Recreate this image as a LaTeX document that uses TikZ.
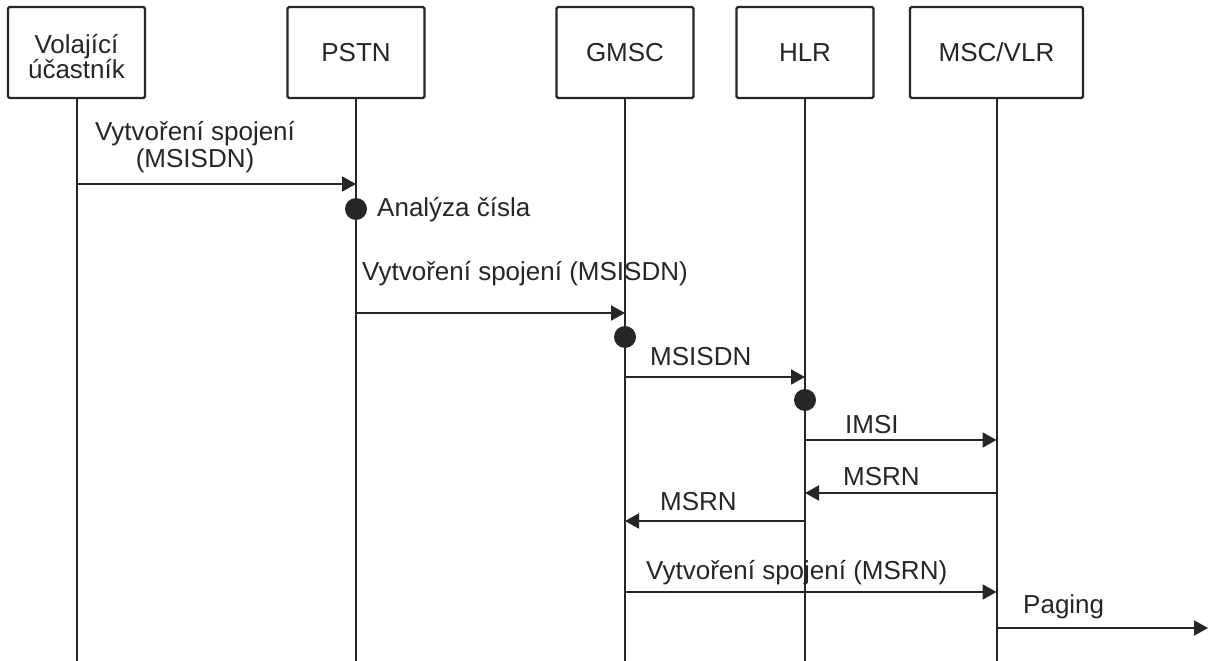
\documentclass[tikz,border=0pt]{standalone}
\usepackage{fontspec}
\setmainfont{Liberation Sans}
\usetikzlibrary{arrows.meta}
\definecolor{ink}{HTML}{262626}
\begin{document}
\begin{tikzpicture}[x=1pt,y=-1pt,
  entity/.style={draw=ink, line width=2.4pt, rounded corners=1.5pt, fill=white,
    minimum width=137pt, minimum height=91pt, inner sep=0pt, align=center,
    text=ink, font=\fontsize{26}{23}\selectfont},
  names/.style={text=ink, align=center, inner sep=0pt, font=\fontsize{26}{23}\selectfont},
  life/.style={draw=ink, line width=2pt},
  msg/.style={draw=ink, line width=2pt, -{Triangle[length=14pt,width=15pt]}},
  lbl/.style={text=ink, font=\fontsize{26}{28}\selectfont, inner sep=0pt, anchor=base west},
  event/.style={circle, fill=ink, minimum size=22pt, inner sep=0pt}]
\useasboundingbox (0,0) rectangle (1213,661);

% participants
\node[entity] (caller) at (76.5,52.5) {};
\node[names, yshift=-4pt] (callerName) at (caller.center) {Volající\\účastník};
\node[entity] (pstn) at (356,52.5) {PSTN};
\node[entity] (gmsc) at (625,52.5) {GMSC};
\node[entity] (hlr) at (805,52.5) {HLR};
\node[entity, minimum width=173pt] (msc) at (996.5,52.5) {MSC/VLR};

% lifeline ends
\coordinate (callerEnd) at (caller.south |- 0,661);
\coordinate (pstnEnd) at (pstn.south |- 0,661);
\coordinate (gmscEnd) at (gmsc.south |- 0,661);
\coordinate (hlrEnd) at (hlr.south |- 0,661);
\coordinate (mscEnd) at (msc.south |- 0,661);
\foreach \p in {caller,pstn,gmsc,hlr,msc}
  \draw[life] (\p.south) -- (\p End);

% message points on the lifelines
\coordinate (c1) at (caller.south |- 0,184);
\coordinate (p1) at (pstn.south |- 0,184);
\coordinate (p2) at (pstn.south |- 0,313);
\coordinate (g2) at (gmsc.south |- 0,313);
\coordinate (g3) at (gmsc.south |- 0,377);
\coordinate (h3) at (hlr.south |- 0,377);
\coordinate (h4) at (hlr.south |- 0,440);
\coordinate (m4) at (msc.south |- 0,440);
\coordinate (m5) at (msc.south |- 0,493);
\coordinate (h5) at (hlr.south |- 0,493);
\coordinate (h6) at (hlr.south |- 0,521);
\coordinate (g6) at (gmsc.south |- 0,521);
\coordinate (g7) at (gmsc.south |- 0,592);
\coordinate (m7) at (msc.south |- 0,592);
\coordinate (m8) at (msc.south |- 0,628);
\coordinate (out8) at (1208,628);

% processing events
\node[event] (ePstn) at (pstn.south |- 0,209) {};
\node[event] (eGmsc) at (gmsc.south |- 0,337) {};
\node[event] (eHlr) at (hlr.south |- 0,400) {};

% messages
\draw[msg] (c1) -- (p1);
\draw[msg] (p2) -- (g2);
\draw[msg] (g3) -- (h3);
\draw[msg] (h4) -- (m4);
\draw[msg] (m5) -- (h5);
\draw[msg] (h6) -- (g6);
\draw[msg] (g7) -- (m7);
\draw[msg] (m8) -- (out8);

% labels
\node[lbl, anchor=base] (l1a) at (195,140) {Vytvoření spojení};
\node[lbl, anchor=base] (l1b) at (195,167) {(MSISDN)};
\node[lbl] (lA) at (377,216) {Analýza čísla};
\node[lbl] (l2) at (362,280) {Vytvoření spojení (MSISDN)};
\node[lbl] (l3) at (650,365) {MSISDN};
\node[lbl] (l4) at (845,433) {IMSI};
\node[lbl] (l5) at (843,485) {MSRN};
\node[lbl] (l6) at (660,510) {MSRN};
\node[lbl] (l7) at (646,579) {Vytvoření spojení (MSRN)};
\node[lbl] (l8) at (1023,613) {Paging};
\end{tikzpicture}
\end{document}
